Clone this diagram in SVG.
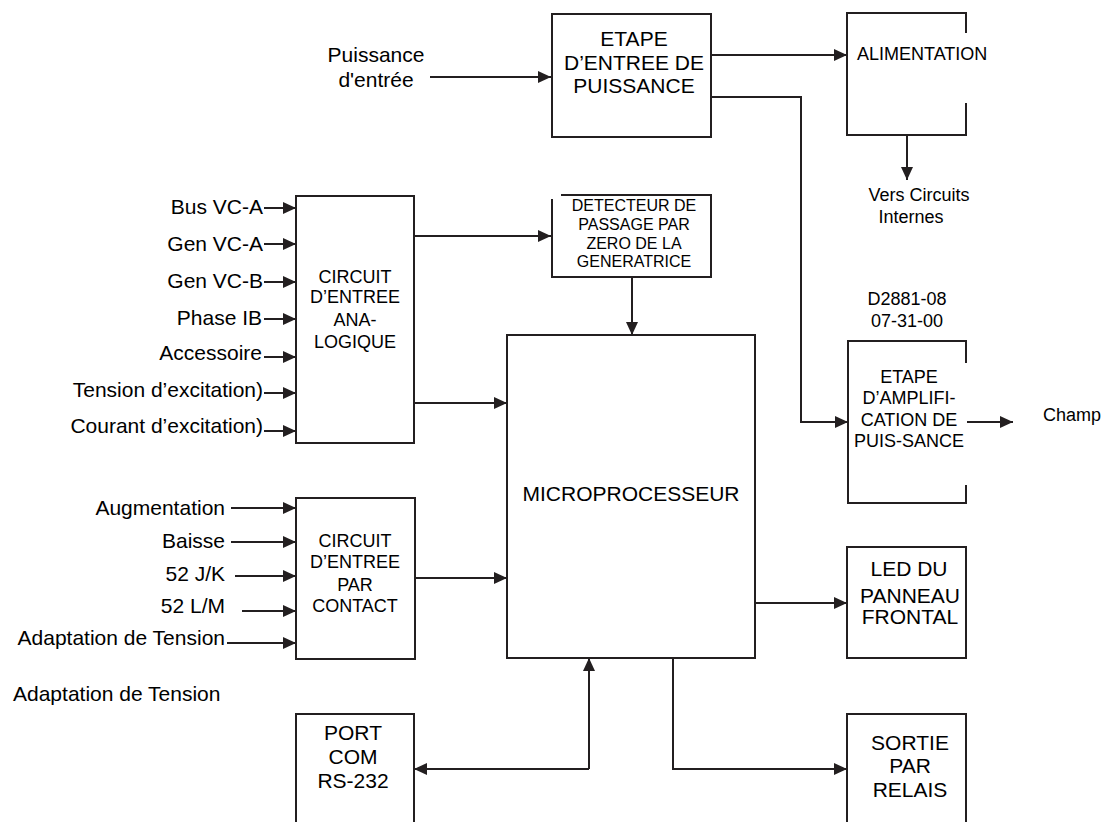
<svg xmlns="http://www.w3.org/2000/svg" width="1114" height="822" viewBox="0 0 1114 822">
<style>
text{font-family:"Liberation Sans",Arial,sans-serif;fill:#000}
.b{font-size:21px}
.m{font-size:18px}
.s{font-size:16px}
.c{text-anchor:middle}
.e{text-anchor:end}
.box{fill:none;stroke:#231f20;stroke-width:2}
.ln{fill:none;stroke:#231f20;stroke-width:2}
.ar{marker-end:url(#ah)}
</style>
<defs>
<marker id="ah" viewBox="0 0 13 12" refX="13" refY="6" markerWidth="13" markerHeight="12" markerUnits="userSpaceOnUse" orient="auto">
<path d="M0,0 L13,6 L0,12 z" fill="#231f20"/>
</marker>
</defs>
<rect width="1114" height="822" fill="#fff"/>

<g id="connectors">
<path class="ln ar" d="M430,77 H551"/>
<path class="ln ar" d="M711,55 H847"/>
<path class="ln ar" d="M711,97 H801 V422 H848"/>
<path class="ln ar" d="M907,135 V180"/>
<path class="ln ar" d="M967,422 H1013"/>
<path class="ln ar" d="M264,208 H296"/>
<path class="ln ar" d="M264,244 H296"/>
<path class="ln ar" d="M264,282 H296"/>
<path class="ln ar" d="M264,319 H296"/>
<path class="ln ar" d="M264,357 H296"/>
<path class="ln ar" d="M264,393 H296"/>
<path class="ln ar" d="M264,431 H296"/>
<path class="ln ar" d="M414,236 H551"/>
<path class="ln ar" d="M414,403 H507"/>
<path class="ln ar" d="M632,277 V335"/>
<path class="ln ar" d="M231,508 H296"/>
<path class="ln ar" d="M231,542 H296"/>
<path class="ln ar" d="M235,576 H296"/>
<path class="ln ar" d="M242,611 H296"/>
<path class="ln ar" d="M227,643 H296"/>
<path class="ln ar" d="M415,578 H507"/>
<path class="ln ar" d="M755,603 H847"/>
<path class="ln ar" d="M589,769 V658"/>
<path class="ln ar" d="M589,769 H414"/>
<path class="ln ar" d="M673,658 V769 H847"/>
</g>

<g id="input-power-label">
<text class="b c" x="376" y="62">Puissance</text>
<text class="b c" x="376" y="87">d'entrée</text>
</g>

<g id="etape-entree">
<rect class="box" x="552" y="14" width="159" height="123"/>
<text class="b c" x="634" y="46">ETAPE</text>
<text class="b c" x="634" y="70">D’ENTREE DE</text>
<text class="b c" x="634" y="93">PUISSANCE</text>
</g>

<g id="alimentation">
<path class="box" d="M966,33 V13 H847 V135 H966 V103"/>
<text class="m" x="857" y="60">ALIMENTATION</text>
</g>

<g id="vers-circuits">
<text class="m c" x="919" y="201">Vers Circuits</text>
<text class="m c" x="911" y="223">Internes</text>
</g>

<g id="analog-inputs">
<text class="b e" x="263" y="214">Bus VC-A</text>
<text class="b e" x="263" y="251">Gen VC-A</text>
<text class="b e" x="263" y="288">Gen VC-B</text>
<text class="b e" x="262" y="325">Phase IB</text>
<text class="b e" x="262" y="360">Accessoire</text>
<text class="b e" x="263" y="397">Tension d’excitation)</text>
<text class="b e" x="263" y="433">Courant d’excitation)</text>
</g>

<g id="circuit-analogique">
<rect class="box" x="296" y="196" width="118" height="247"/>
<text class="m c" x="355" y="283">CIRCUIT</text>
<text class="m c" x="355" y="303">D’ENTREE</text>
<text class="m c" x="355" y="326">ANA-</text>
<text class="m c" x="355" y="348">LOGIQUE</text>
</g>

<g id="detecteur">
<path class="box" d="M561,195 H711 V277 H552 V199"/>
<text class="s c" x="634" y="211">DETECTEUR DE</text>
<text class="s c" x="634" y="230">PASSAGE PAR</text>
<text class="s c" x="634" y="249">ZERO DE LA</text>
<text class="s c" x="634" y="267">GENERATRICE</text>
</g>

<g id="drawing-number">
<text class="m c" x="907" y="305">D2881-08</text>
<text class="m c" x="907" y="327">07-31-00</text>
</g>

<g id="etape-amplification">
<path class="box" d="M966,363 V341 H848 V503 H966 V485"/>
<text class="m c" x="909" y="383">ETAPE</text>
<text class="m c" x="909" y="404">D’AMPLIFI-</text>
<text class="m c" x="909" y="426">CATION DE</text>
<text class="m c" x="909" y="447">PUIS-SANCE</text>
</g>

<g id="champ">
<text class="m" x="1043" y="421">Champ</text>
</g>

<g id="microprocesseur">
<rect class="box" x="507" y="335" width="248" height="323"/>
<text class="b c" x="631" y="501">MICROPROCESSEUR</text>
</g>

<g id="contact-inputs">
<text class="b e" x="225" y="515">Augmentation</text>
<text class="b e" x="225" y="548">Baisse</text>
<text class="b e" x="225" y="581">52 J/K</text>
<text class="b e" x="225" y="613">52 L/M</text>
<text class="b e" x="225" y="645">Adaptation de Tension</text>
</g>

<g id="circuit-contact">
<rect class="box" x="296" y="498" width="119" height="161"/>
<text class="m c" x="355" y="547">CIRCUIT</text>
<text class="m c" x="355" y="568">D’ENTREE</text>
<text class="m c" x="355" y="591">PAR</text>
<text class="m c" x="355" y="612">CONTACT</text>
</g>

<g id="adaptation-label">
<text class="b" x="13" y="701">Adaptation de Tension</text>
</g>

<g id="led-panneau">
<rect class="box" x="847" y="547" width="119" height="111"/>
<text class="b c" x="909" y="576">LED DU</text>
<text class="b c" x="910" y="603">PANNEAU</text>
<text class="b c" x="910" y="624">FRONTAL</text>
</g>

<g id="port-com">
<path class="box" d="M296,832 V714 H414 V832"/>
<text class="b c" x="353" y="740">PORT</text>
<text class="b c" x="353" y="764">COM</text>
<text class="b c" x="353" y="788">RS-232</text>
</g>

<g id="sortie-relais">
<path class="box" d="M847,832 V714 H966 V832"/>
<text class="b c" x="910" y="750">SORTIE</text>
<text class="b c" x="910" y="773">PAR</text>
<text class="b c" x="910" y="797">RELAIS</text>
</g>
</svg>
